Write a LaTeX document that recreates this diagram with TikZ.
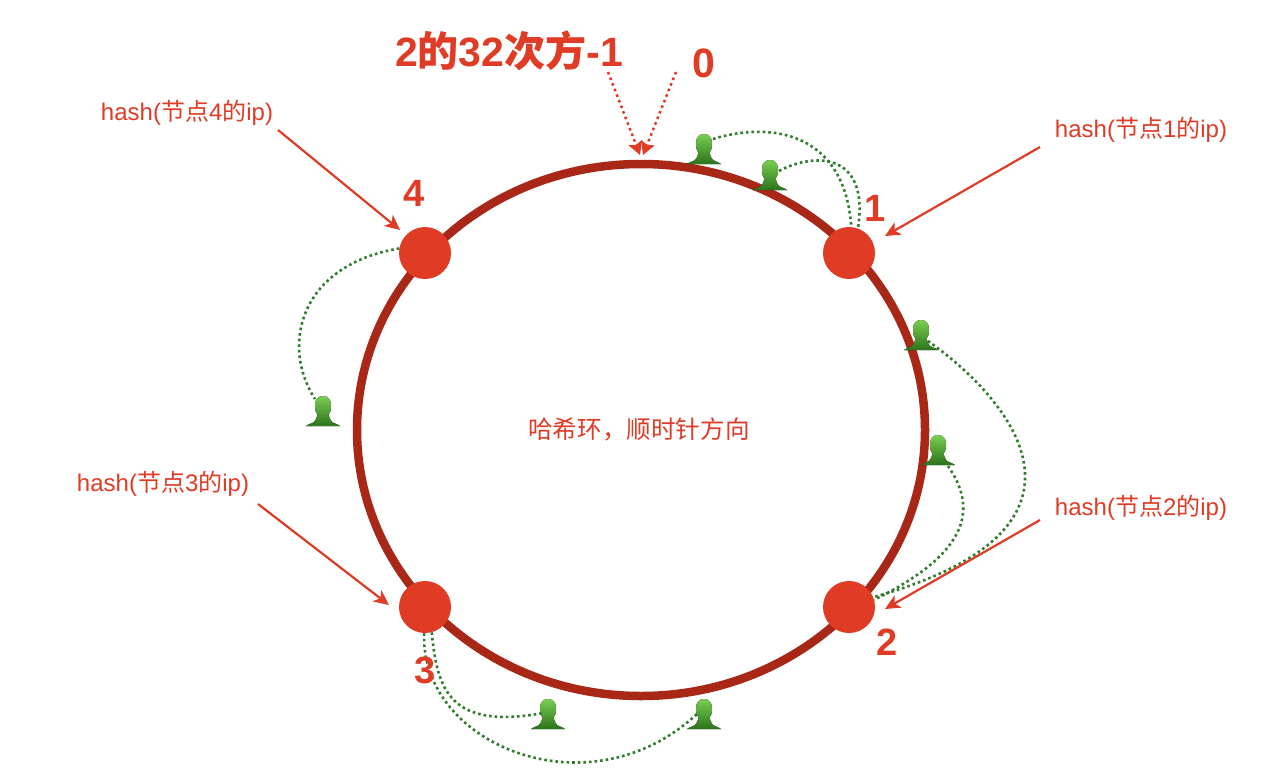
\documentclass[tikz,border=0pt]{standalone}
\usepackage{fontspec}
\setmainfont{Liberation Sans}
\newfontfamily\cjk{Noto Sans CJK SC}
\usetikzlibrary{arrows.meta}
\definecolor{nodered}{HTML}{DF3B25}
\definecolor{ringred}{HTML}{A92716}
\definecolor{dotgreen}{HTML}{2F7D2A}
\definecolor{persontop}{HTML}{79CF52}
\definecolor{personbot}{HTML}{2C731C}
\tikzset{
  ring/.style={draw=ringred,line width=8.5pt},
  hashnode/.style={circle,fill=nodered,draw=none,minimum size=52pt,inner sep=0pt},
  personbox/.style={draw=none,fill=none,minimum width=34pt,minimum height=30pt,inner sep=0pt},
  hashlabel/.style={text=nodered,font=\fontsize{24}{28}\selectfont,inner sep=0pt},
  numlabel/.style={text=nodered,font=\fontsize{38}{42}\selectfont\bfseries,inner sep=0pt},
  toplabel/.style={text=nodered,font=\fontsize{41}{46}\selectfont\bfseries,inner sep=0pt},
  hasharrow/.style={draw=nodered,line width=2.2pt,-{Stealth[length=15pt,width=14pt,inset=4pt]}},
  redDots/.style={draw=nodered,line width=2.5pt,dash pattern=on 2.6pt off 3.4pt,-{Stealth[length=13pt,width=14pt,inset=2pt]}},
  greenDots/.style={draw=dotgreen,line width=2.6pt,dash pattern=on 2.6pt off 3pt},
  personpic/.pic={
    \fill[top color=persontop,bottom color=personbot]
      (-17,15) .. controls (-13,12) and (-9,12.5) .. (-7.5,9) -- (-5.5,4)
      .. controls (-7.5,1) and (-8,-1) .. (-8,-6)
      .. controls (-8,-12) and (-4.5,-15) .. (0,-15)
      .. controls (4.5,-15) and (8,-12) .. (8,-6)
      .. controls (8,-1) and (7.5,1) .. (5.5,4) -- (7.5,9)
      .. controls (9,12.5) and (13,12) .. (17,15) -- cycle;
  }
}
\newcommand{\personat}[3]{\node[personbox] (#1) at (#2,#3) {}; \pic at (#1.center) {personpic};}
\begin{document}
\begin{tikzpicture}[x=1pt,y=-1pt]
\useasboundingbox (0,0) rectangle (1282,782);
\fill[white] (0,0) rectangle (1282,782);
\draw[ring] (641,430) ellipse [x radius=284,y radius=266];
\node[hashnode] (n1) at (849,253) {};
\node[hashnode] (n2) at (849,607) {};
\node[hashnode] (n3) at (425,607) {};
\node[hashnode] (n4) at (425,253) {};
\personat{p1}{704}{149}
\personat{p2}{770}{175}
\personat{p3}{921}{335}
\personat{p4}{938}{450}
\personat{p5}{323}{411}
\personat{p6}{548}{714}
\personat{p7}{704}{714}
\draw[greenDots] ([shift={(9,-10)}]p1.center) .. controls (775,120) and (845,135) .. (n1.85);
\draw[greenDots] ([shift={(9,-4)}]p2.center) .. controls (812,153) and (870,150) .. (n1.70);
\draw[greenDots] ([shift={(7,6)}]p3.center) .. controls (1005,395) and (1125,527) .. (n2.22);
\draw[greenDots] ([shift={(10,16)}]p4.center) .. controls (975,505) and (975,550) .. (n2.16);
\draw[greenDots] (n4.170) .. controls (300,265) and (280,345) .. ([shift={(-8,-12)}]p5.center);
\draw[greenDots] (n3.-75) .. controls (437,690) and (450,730) .. ([shift={(-5,-1)}]p6.center);
\draw[greenDots] (n3.-92) .. controls (420,745) and (590,815) .. ([shift={(-6,-1)}]p7.center);
\node[hashlabel] (h4) at (187,113) {hash({\cjk 节点}4{\cjk 的}ip)};
\node[hashlabel] (h1) at (1141,130) {hash({\cjk 节点}1{\cjk 的}ip)};
\node[hashlabel] (h2) at (1141,508) {hash({\cjk 节点}2{\cjk 的}ip)};
\node[hashlabel] (h3) at (163,484) {hash({\cjk 节点}3{\cjk 的}ip)};
\coordinate (a4s) at (278,130); \coordinate (a1s) at (1040,147);
\coordinate (a2s) at (1040,520); \coordinate (a3s) at (258,504);
\draw[hasharrow] (a4s) -- ([shift={(-25,-23)}]n4.center);
\draw[hasharrow] (a1s) -- ([shift={(36,-17)}]n1.center);
\draw[hasharrow] (a2s) -- ([shift={(36,2)}]n2.center);
\draw[hasharrow] (a3s) -- ([shift={(-36,-2)}]n3.center);
\node[toplabel] (max) at (509,51) {2{\cjk\bfseries 的}32{\cjk\bfseries 次方}-1};
\node[toplabel] (zero) at (704,63) {0};
\coordinate (tipa) at (640,155); \coordinate (tipb) at (643,155);
\draw[redDots] (608,72) -- (tipa);
\draw[redDots] (676,72) -- (tipb);
\node[numlabel] (l1) at (875,208) {1};
\node[numlabel] (l2) at (887,642) {2};
\node[numlabel] (l3) at (425,670) {3};
\node[numlabel] (l4) at (414,193) {4};
\node[text=nodered,font=\fontsize{24.6}{28}\selectfont\cjk,inner sep=0pt] (c) at (639,429) {哈希环，顺时针方向};
\end{tikzpicture}
\end{document}
